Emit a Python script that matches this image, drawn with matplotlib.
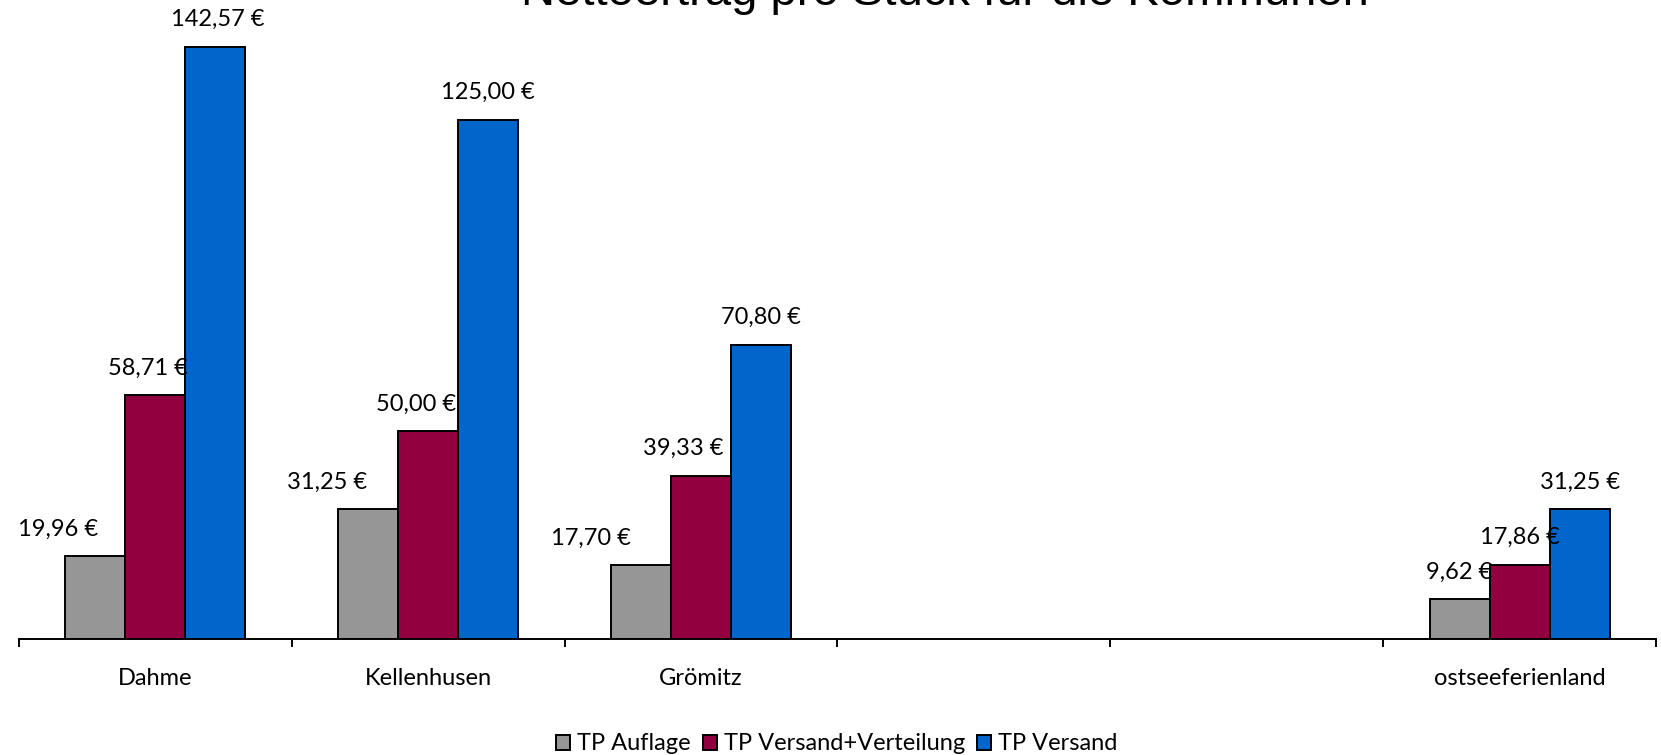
import matplotlib
matplotlib.use("Agg")
import matplotlib.pyplot as plt
from matplotlib.patches import Patch
import numpy as np

plt.rcParams['font.family'] = ['Lato', 'DejaVu Sans']

categories = ["Dahme", "Kellenhusen", "Grömitz", "", "", "ostseeferienland"]
series_names = ["TP Auflage", "TP Versand+Verteilung", "TP Versand"]
auflage = [19.96, 31.25, 17.70, np.nan, np.nan, 9.62]
versand_verteilung = [58.71, 50.00, 39.33, np.nan, np.nan, 17.86]
versand = [142.57, 125.00, 70.80, np.nan, np.nan, 31.25]
colors = ["#969696", "#93003F", "#0066CC"]

# horizontal nudges of the value labels (pixels), as in the original
label_shift = [[-37, -41, -50, 0, 0, 0],
               [-7, -12, -18, 0, 0, 0],
               [2, 0, 0, 0, 0, 0]]

W, H = 1661, 755
fig = plt.figure(figsize=(W / 100, H / 100), dpi=100)
ax = fig.add_axes([19 / W, (H - 639) / H, (1656 - 19) / W, 639 / H])

x = np.arange(len(categories))
w = 0.22
for i, vals in enumerate([auflage, versand_verteilung, versand]):
    pos = x + (i - 1) * w
    ax.bar(pos, vals, width=w, color=colors[i], edgecolor="black",
           linewidth=1.4, zorder=2)
    for j, v in enumerate(vals):
        if np.isnan(v):
            continue
        txt = f"{v:.2f}".replace(".", ",") + " €"
        ax.annotate(txt, (pos[j], v), xytext=(label_shift[i][j] * 0.72, 19.5),
                    textcoords="offset points", ha="center", va="center",
                    fontsize=17)

ax.set_xlim(-0.5, len(categories) - 0.5)
ax.set_ylim(0, 153.8)
for s in ["top", "left", "right"]:
    ax.spines[s].set_visible(False)
ax.spines["bottom"].set_linewidth(1.4)
ax.set_yticks([])
ax.set_xticks(np.arange(-0.5, len(categories)))
ax.set_xticklabels([])
ax.tick_params(axis="x", which="major", direction="out", length=6, width=1.4)
ax.set_xticks(x, minor=True)
ax.set_xticklabels(categories, minor=True, fontsize=17)
ax.tick_params(axis="x", which="minor", length=0, pad=21)

fig.text(945 / W, 1 - 5 / H, "Nettoertrag pro Stück für die Kommunen",
         ha="center", va="baseline", fontsize=34, family="Liberation Sans")

handles = [Patch(facecolor=c, edgecolor="black", linewidth=1.4) for c in colors]
fig.legend(handles, series_names, loc="center", ncol=3, frameon=False,
           bbox_to_anchor=(837 / W, 1 - 744 / H), fontsize=17,
           handlelength=0.6, handleheight=0.6, handletextpad=0.3,
           columnspacing=0.5)

fig.savefig("out.png", dpi=100)
